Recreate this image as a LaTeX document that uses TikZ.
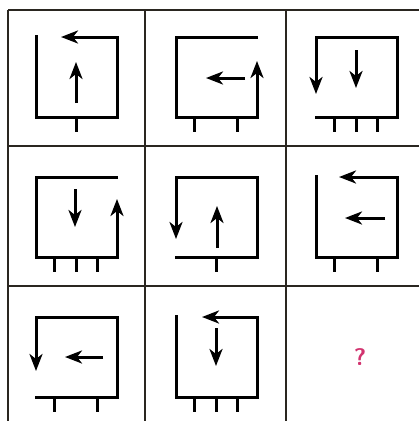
\documentclass[tikz,border=0pt]{standalone}
\usetikzlibrary{arrows.meta}
\definecolor{gridc}{HTML}{2A2620}
\definecolor{qmark}{HTML}{D2336F}
\tikzset{
  gridline/.style={line width=1.6pt, draw=gridc},
  frame/.style={line width=3pt, line join=miter, draw=black},
  arr/.style={frame, -{Stealth[length=17pt,width=13pt,inset=5pt]}},
  legline/.style={line width=3pt, draw=black},
}
\newcommand{\legsOne}{\draw[legline] (76.5,117) -- (76.5,132);}
\newcommand{\legsTwo}{\draw[legline] (54,117) -- (54,132); \draw[legline] (97,117) -- (97,132);}
\newcommand{\legsThree}{\draw[legline] (54,117) -- (54,132); \draw[legline] (76,117) -- (76,132); \draw[legline] (97,117) -- (97,132);}
\begin{document}
\begin{tikzpicture}[x=1pt,y=-1pt]
\useasboundingbox (0,0) rectangle (419,421);
\fill[white] (0,0) rectangle (419,421);
% grid
\draw[gridline] (8,10) -- (8,421);
\draw[gridline] (145,10) -- (145,421);
\draw[gridline] (286,10) -- (286,421);
\draw[gridline] (8,10) -- (419,10);
\draw[gridline] (8,146) -- (419,146);
\draw[gridline] (8,286) -- (419,286);
% cell 1
\begin{scope}[shift={(0,0)}]
\draw[arr] (36,35) -- (36,117) -- (117,117) -- (117,37) -- (61,37);
\draw[arr] (76,103) -- (76,62);
\legsOne
\end{scope}
% cell 2
\begin{scope}[shift={(140,0)}]
\draw[arr] (118,37) -- (36,37) -- (36,117) -- (117,117) -- (117,61);
\draw[arr] (105,78) -- (66,78);
\legsTwo
\end{scope}
% cell 3
\begin{scope}[shift={(280,0)}]
\draw[arr] (35,117) -- (117,117) -- (117,37) -- (36,37) -- (36,94);
\draw[arr] (76,50) -- (76,88);
\legsThree
\end{scope}
% cell 4
\begin{scope}[shift={(0,140)}]
\draw[arr] (118,37) -- (36,37) -- (36,117) -- (117,117) -- (117,59);
\draw[arr] (75,49) -- (75,87);
\legsThree
\end{scope}
% cell 5
\begin{scope}[shift={(140,140)}]
\draw[arr] (35,117) -- (117,117) -- (117,37) -- (36,37) -- (36,99);
\draw[arr] (77,108) -- (77,66);
\legsOne
\end{scope}
% cell 6
\begin{scope}[shift={(280,140)}]
\draw[arr] (36,35) -- (36,117) -- (117,117) -- (117,37) -- (59,37);
\draw[arr] (105,78) -- (65,78);
\legsTwo
\end{scope}
% cell 7
\begin{scope}[shift={(0,280)}]
\draw[arr] (35,117) -- (117,117) -- (117,37) -- (36,37) -- (36,91);
\draw[arr] (103,77) -- (65,77);
\legsTwo
\end{scope}
% cell 8
\begin{scope}[shift={(140,280)}]
\draw[arr] (36,35) -- (36,117) -- (117,117) -- (117,37) -- (62,37);
\draw[arr] (76,48) -- (76,86);
\legsThree
\end{scope}
% cell 9
\node[text=qmark, font=\sffamily\bfseries\fontsize{24}{24}\selectfont] (q) at (360,357) {?};
\end{tikzpicture}
\end{document}
